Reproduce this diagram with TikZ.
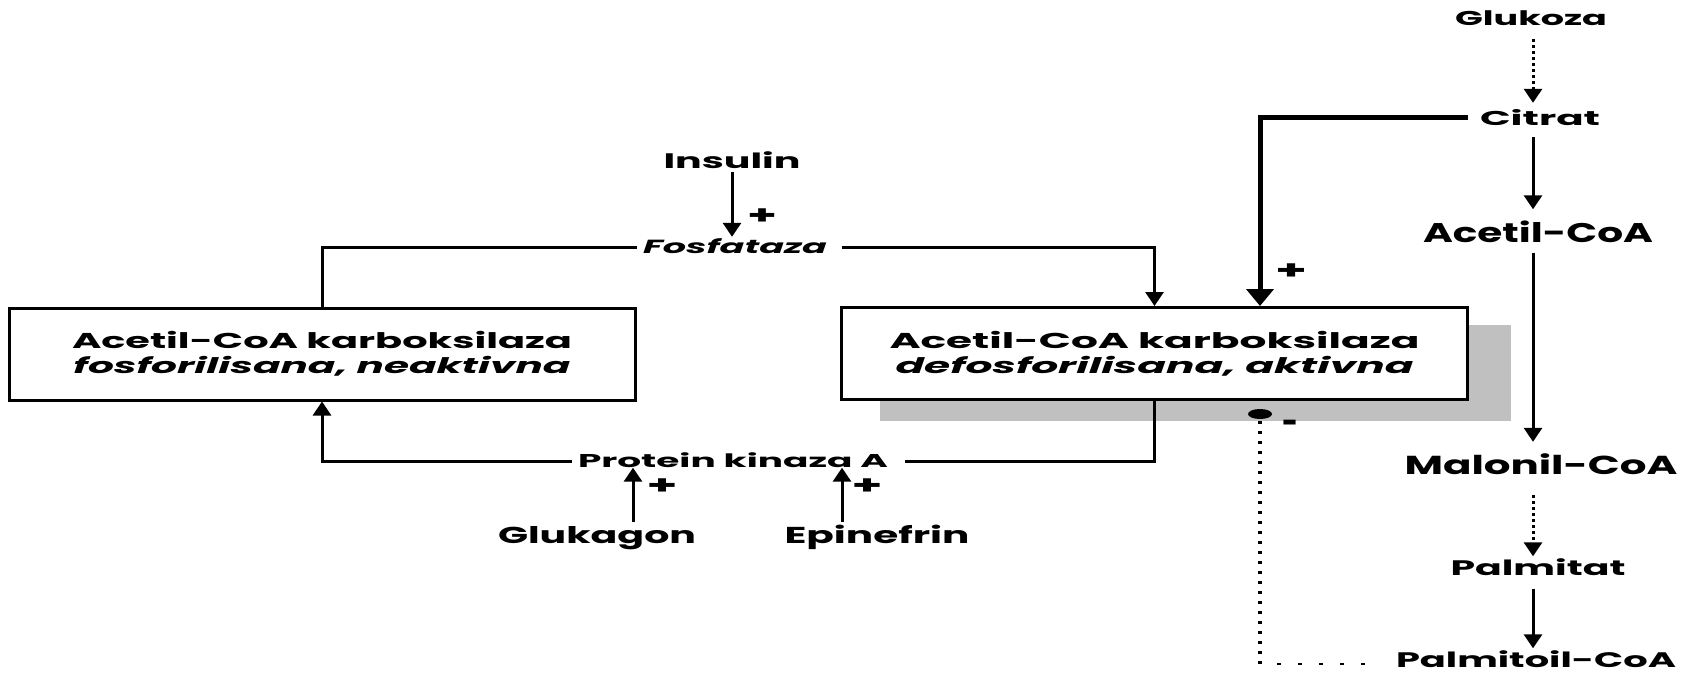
\documentclass[tikz,border=0pt]{standalone}
\usepackage{fontspec}
\setmainfont{Poppins}
\usetikzlibrary{arrows.meta,calc,backgrounds}
\definecolor{shadowgray}{RGB}{192,192,192}
\newsavebox\fwbox
\newcommand\fw[2]{\sbox\fwbox{#2}\pgfmathsetmacro\fwr{#1/\the\wd\fwbox}\scalebox{\fwr}[1]{\usebox\fwbox}}
\newcommand\fsz[1]{\fontsize{#1}{#1}\selectfont}
\begin{document}
\begin{tikzpicture}[x=1pt,y=-1pt,
  lbl/.style={inner sep=0pt,text depth=0pt,text height=#1},
  box/.style={draw,line width=3pt,fill=white,minimum width=626pt,minimum height=92pt,
    inner sep=0pt,align=center,font=\fontsize{21.5}{25}\selectfont\bfseries},
  ln/.style={line width=3pt},
  arr/.style={line width=3pt,-{Triangle[width=18pt,length=14pt]}},
  darr/.style={line width=3pt,dash pattern=on 3pt off 3pt,-{Triangle[width=18pt,length=14pt]}},
  tarr/.style={line width=5pt,-{Triangle[width=27pt,length=17pt]}},
  sym/.style={inner sep=0pt,font=\fsz{26}\bfseries},
  vdots/.style={line width=3.5pt,dash pattern=on 3.5pt off 6.5pt},
  hdots/.style={line width=2pt,dash pattern=on 4pt off 17pt}]
\useasboundingbox (0,0) rectangle (1686,674);

% right column
\node[lbl=14pt,font=\fsz{20}\bfseries] (glu) at (1531,19) {\fw{152}{Glukoza}};
\node[lbl=14pt,font=\fsz{20}\bfseries] (cit) at (1540,118) {\fw{120}{Citrat}};
\node[lbl=19pt,font=\fsz{27}\bfseries] (acoa) at (1538,233) {\fw{230}{Acetil-CoA}};
\node[lbl=18pt,font=\fsz{26}\bfseries] (mal) at (1541,465) {\fw{273}{Malonil-CoA}};
\node[lbl=15pt,font=\fsz{21}\bfseries] (palm) at (1538,568) {\fw{175}{Palmitat}};
\node[lbl=15pt,font=\fsz{21}\bfseries] (pcoa) at (1536,660) {\fw{280}{Palmitoil-CoA}};

% regulators
\node[lbl=15pt,font=\fsz{21}\bfseries] (ins) at (732,161) {\fw{137}{Insulin}};
\node[lbl=13pt,font=\fsz{19}\bfseries\itshape] (fos) at (735,247) {\fw{184}{Fosfataza}};
\node[lbl=13pt,font=\fsz{18.5}\bfseries] (pka) at (733,461) {\fw{310}{Protein kinaza A}};
\node[lbl=16pt,font=\fsz{23}\bfseries] (glk) at (597,535) {\fw{198}{Glukagon}};
\node[lbl=16pt,font=\fsz{23}\bfseries] (epi) at (877,535) {\fw{185}{Epinefrin}};

% boxes
\node[box] (lb) at (322,354) {\fw{500}{Acetil-CoA karboksilaza}\\\fw{497}{\itshape fosforilisana, neaktivna}};
\node[box] (rb) at (1154.5,353.5) {\fw{530}{Acetil-CoA karboksilaza}\\\fw{518}{\itshape defosforilisana, aktivna}};
\begin{scope}[on background layer]
  \fill[shadowgray] ([xshift=40pt,yshift=-19pt]rb.north west) rectangle ([xshift=42pt,yshift=-20pt]rb.south east);
\end{scope}

% signs
\node[sym] (pins) at (762,217) {\fw{30}{+}};
\node[sym] (pcit) at (1291,272) {\fw{32}{+}};
\node[sym] (pglk) at (662,487) {\fw{31}{+}};
\node[sym] (pepi) at (867,487) {\fw{31}{+}};
\node[inner sep=0pt,font=\fsz{34}\bfseries] (minus) at (1290,427) {\fw{16}{-}};

% connectors
\draw[ln,shorten <=6pt] (fos.west) -| (lb.north);
\draw[arr,shorten <=15pt] (fos.east) -| (rb.north);
\draw[ln,shorten >=17pt] (rb.south) |- (pka.east);
\draw[arr,shorten <=6pt] (pka.west) -| (lb.south);
\draw[arr,shorten <=3.5pt,shorten >=3.5pt] (ins.south) -- (ins.south |- fos.north);
\draw[arr,shorten <=5pt] ([xshift=36pt]glk.north) -- ([xshift=36pt]glk.north |- pka.south);
\draw[arr,shorten <=5pt] ([xshift=-35pt]epi.north) -- ([xshift=-35pt]epi.north |- pka.south);
\draw[tarr,shorten <=12pt] (cit.west) -| ([xshift=105.5pt]rb.north);

\coordinate (colx) at (1533,0);
\draw[darr,shorten <=13pt,shorten >=8pt] (glu.south -| colx) -- (cit.north -| colx);
\draw[arr,shorten <=12pt,shorten >=14pt] (cit.south -| colx) -- (acoa.north -| colx);
\draw[arr,shorten <=10pt,shorten >=14pt] (acoa.south -| colx) -- (mal.north -| colx);
\draw[darr,shorten <=21pt,shorten >=4pt] (mal.south -| colx) -- (palm.north -| colx);
\draw[arr,shorten <=13pt,shorten >=4pt] (palm.south -| colx) -- (pcoa.north -| colx);

% inhibition
\coordinate (inh) at ([xshift=105.5pt,yshift=-13pt]rb.south);
\coordinate (crn) at ([yshift=-4pt]inh |- pcoa);
\draw[hdots] ([xshift=-31pt,yshift=-4pt]pcoa.west) -- (crn);
\draw[vdots] (crn) -- (inh);
\fill (inh) ellipse [x radius=12pt,y radius=5pt];
\end{tikzpicture}
\end{document}
